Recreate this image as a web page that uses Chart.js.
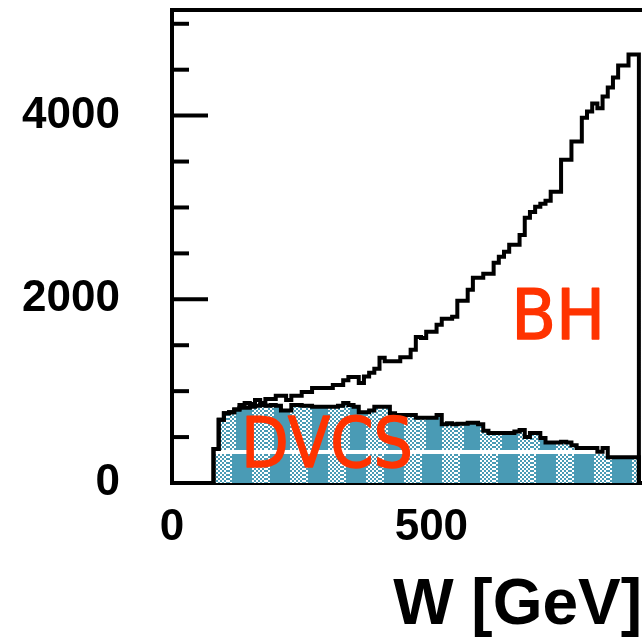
<!DOCTYPE html>
<html>
<head>
<meta charset="utf-8">
<script src="https://cdn.jsdelivr.net/npm/chart.js@4/dist/chart.umd.min.js"></script>
<style>
html,body{margin:0;padding:0;background:#fff;}
#wrap{width:642px;height:641px;position:relative;}
</style>
</head>
<body>
<div id="wrap"><canvas id="c"></canvas></div>
<script>
// ---- data (W bins of 10 GeV, lower edges) ----
const binLowEdges = [80,90,100,110,120,130,140,150,160,170,180,190,200,210,220,230,240,250,260,270,
  280,290,300,310,320,330,340,350,360,370,380,390,400,410,420,430,440,450,460,470,
  480,490,500,510,520,530,540,550,560,570,580,590,600,610,620,630,640,650,660,670,
  680,690,700,710,720,730,740,750,760,770,780,790,800,810,820,830,840,850,860,870,880,890];
const lastBinUpperEdge = 900;
const bhCounts = [370,690,760,770,800,850,870,860,905,870,
  915,915,950,950,905,950,950,990,990,1035,
  1035,1035,1035,1068,1068,1120,1155,1155,1090,1160,
  1200,1245,1365,1325,1325,1325,1370,1370,1450,1590,
  1580,1646,1646,1722,1787,1787,1809,1984,1984,2104,
  2234,2234,2278,2278,2398,2463,2518,2594,2594,2700,
  2888,2950,3008,3040,3074,3172,3172,3520,3520,3717,
  3717,3978,4044,4131,4080,4207,4305,4414,4545,4545,
  4665,4665];
const dvcsCounts = [370,690,760,770,800,820,820,830,840,850,
  840,850,840,790,790,850,850,840,840,830,
  830,830,830,830,840,870,850,830,770,770,
  790,830,830,830,760,740,740,740,740,710,
  710,710,710,740,640,650,640,645,645,655,
  655,640,570,545,545,545,545,545,560,578,
  500,545,545,490,440,440,440,450,440,410,
  380,380,380,380,340,380,280,280,280,280,
  280,280];
const xTickLabels = [0, 500];
const yTickLabels = [0, 2000, 4000];
const yMinorTicks = [500, 1000, 1500, 2000, 2500, 3000, 3500, 4000, 4500, 5000];
const yMajorTicks = [2000, 4000];
const xAxisTitle = 'W [GeV]';
const seriesNames = ['BH', 'DVCS'];

// ---- build histogram outlines (step 'before': value held until next edge) ----
function histPoints(edges, counts, upper) {
  const pts = [{x: edges[0], y: 0}];
  for (let i = 0; i < edges.length; i++) pts.push({x: edges[i], y: counts[i]});
  pts.push({x: upper, y: 0});
  return pts;
}

// ---- fill pattern (teal with checkered columns) ----
const teal = '#4a9bb5';
function makePattern(ctx) {
  const c = document.createElement('canvas');
  c.width = 38; c.height = 641;
  const g = c.getContext('2d');
  g.fillStyle = teal; g.fillRect(0, 0, 38, 641);
  g.fillStyle = '#ffffff';
  for (let y = 0; y < 641; y += 2) {
    const cw = y < 450 ? 21 : 17;
    for (let x = 0; x < 38; x += 2) {
      const off = (x - 24 + 38) % 38;
      if (off < cw && ((x / 2 + y / 2) % 2 === 0)) g.fillRect(x, y, 2, 2);
    }
  }
  g.fillRect(0, 450, 38, 4);
  return ctx.createPattern(c, 'repeat');
}

const canvas = document.getElementById('c');
const ctx = canvas.getContext('2d');
const pattern = makePattern(ctx);

const framePlugin = {
  id: 'frame',
  beforeDatasetsDraw(chart) {
    const {ctx, chartArea, scales} = chart;
    const ys = scales.y;
    ctx.save();
    ctx.strokeStyle = '#000';
    ctx.lineWidth = 4;
    ctx.beginPath();
    ctx.moveTo(chartArea.left - 2, chartArea.top);
    ctx.lineTo(chartArea.right, chartArea.top);
    ctx.stroke();
    ctx.lineWidth = 4;
    yMinorTicks.forEach(v => {
      const py = ys.getPixelForValue(v);
      const len = yMajorTicks.includes(v) ? 36 : 17;
      ctx.beginPath();
      ctx.moveTo(chartArea.left, py);
      ctx.lineTo(chartArea.left + len, py);
      ctx.stroke();
    });
    ctx.restore();
  },
  afterDatasetsDraw(chart) {
    const {ctx, scales} = chart;
    const xs = scales.x, ys = scales.y;
    ctx.save();
    ctx.fillStyle = '#ff3300';
    ctx.strokeStyle = '#ff3300';
    ctx.lineWidth = 1.5;
    ctx.lineJoin = 'round';
    ctx.font = '70px "DejaVu Sans", sans-serif';
    ctx.textAlign = 'left';
    ctx.textBaseline = 'alphabetic';
    const bx = xs.getPixelForValue(654), by = ys.getPixelForValue(1569);
    ctx.fillText(seriesNames[0], bx, by, 94);
    ctx.strokeText(seriesNames[0], bx, by, 94);
    const dx = xs.getPixelForValue(133), dy = ys.getPixelForValue(174);
    ctx.fillText(seriesNames[1], dx, dy, 172);
    ctx.strokeText(seriesNames[1], dx, dy, 172);
    ctx.restore();
  }
};

const tickFont = {family: '"Liberation Sans", Arial, sans-serif', size: 44, weight: 'bold'};

new Chart(ctx, {
  type: 'line',
  data: {
    datasets: [
      {label: seriesNames[0], data: histPoints(binLowEdges, bhCounts, lastBinUpperEdge),
       stepped: true, borderColor: '#000', borderWidth: 4, pointRadius: 0, fill: false,
       borderJoinStyle: 'miter', borderCapStyle: 'butt'},
      {label: seriesNames[1], data: histPoints(binLowEdges, dvcsCounts, lastBinUpperEdge),
       stepped: true, borderColor: '#000', borderWidth: 4, pointRadius: 0, fill: 'origin',
       backgroundColor: pattern, borderJoinStyle: 'miter', borderCapStyle: 'butt'}
    ]
  },
  options: {
    responsive: true, maintainAspectRatio: false, animation: false, devicePixelRatio: 1,
    layout: {padding: {top: 10, left: 0, right: 0, bottom: 0}},
    plugins: {legend: {display: false}, tooltip: {enabled: false}},
    scales: {
      x: {
        type: 'linear', min: 0, max: 906,
        afterBuildTicks(s) { s.ticks = xTickLabels.map(v => ({value: v})); },
        afterFit(s) { s.height = 158; s.paddingLeft = 0; s.paddingRight = 0; },
        grid: {display: false, drawTicks: false},
        border: {display: true, width: 4, color: '#000'},
        ticks: {autoSkip: false, maxRotation: 0, padding: 18, color: '#000', font: tickFont,
          callback: v => String(v)},
        title: {display: true, text: xAxisTitle, align: 'end', color: '#000',
          font: {family: '"Liberation Sans", Arial, sans-serif', size: 64, weight: 'bold', lineHeight: 1},
          padding: {top: 0, bottom: 3}}
      },
      y: {
        type: 'linear', min: 0, max: 5150,
        afterBuildTicks(s) { s.ticks = yTickLabels.map(v => ({value: v})); },
        afterFit(s) { s.width = 172; s.paddingTop = 0; s.paddingBottom = 0; },
        grid: {display: false, drawTicks: false},
        border: {display: true, width: 4, color: '#000'},
        ticks: {autoSkip: false, padding: 52, color: '#000', font: tickFont,
          callback: v => String(v)}
      }
    }
  },
  plugins: [framePlugin]
});
</script>
</body>
</html>
